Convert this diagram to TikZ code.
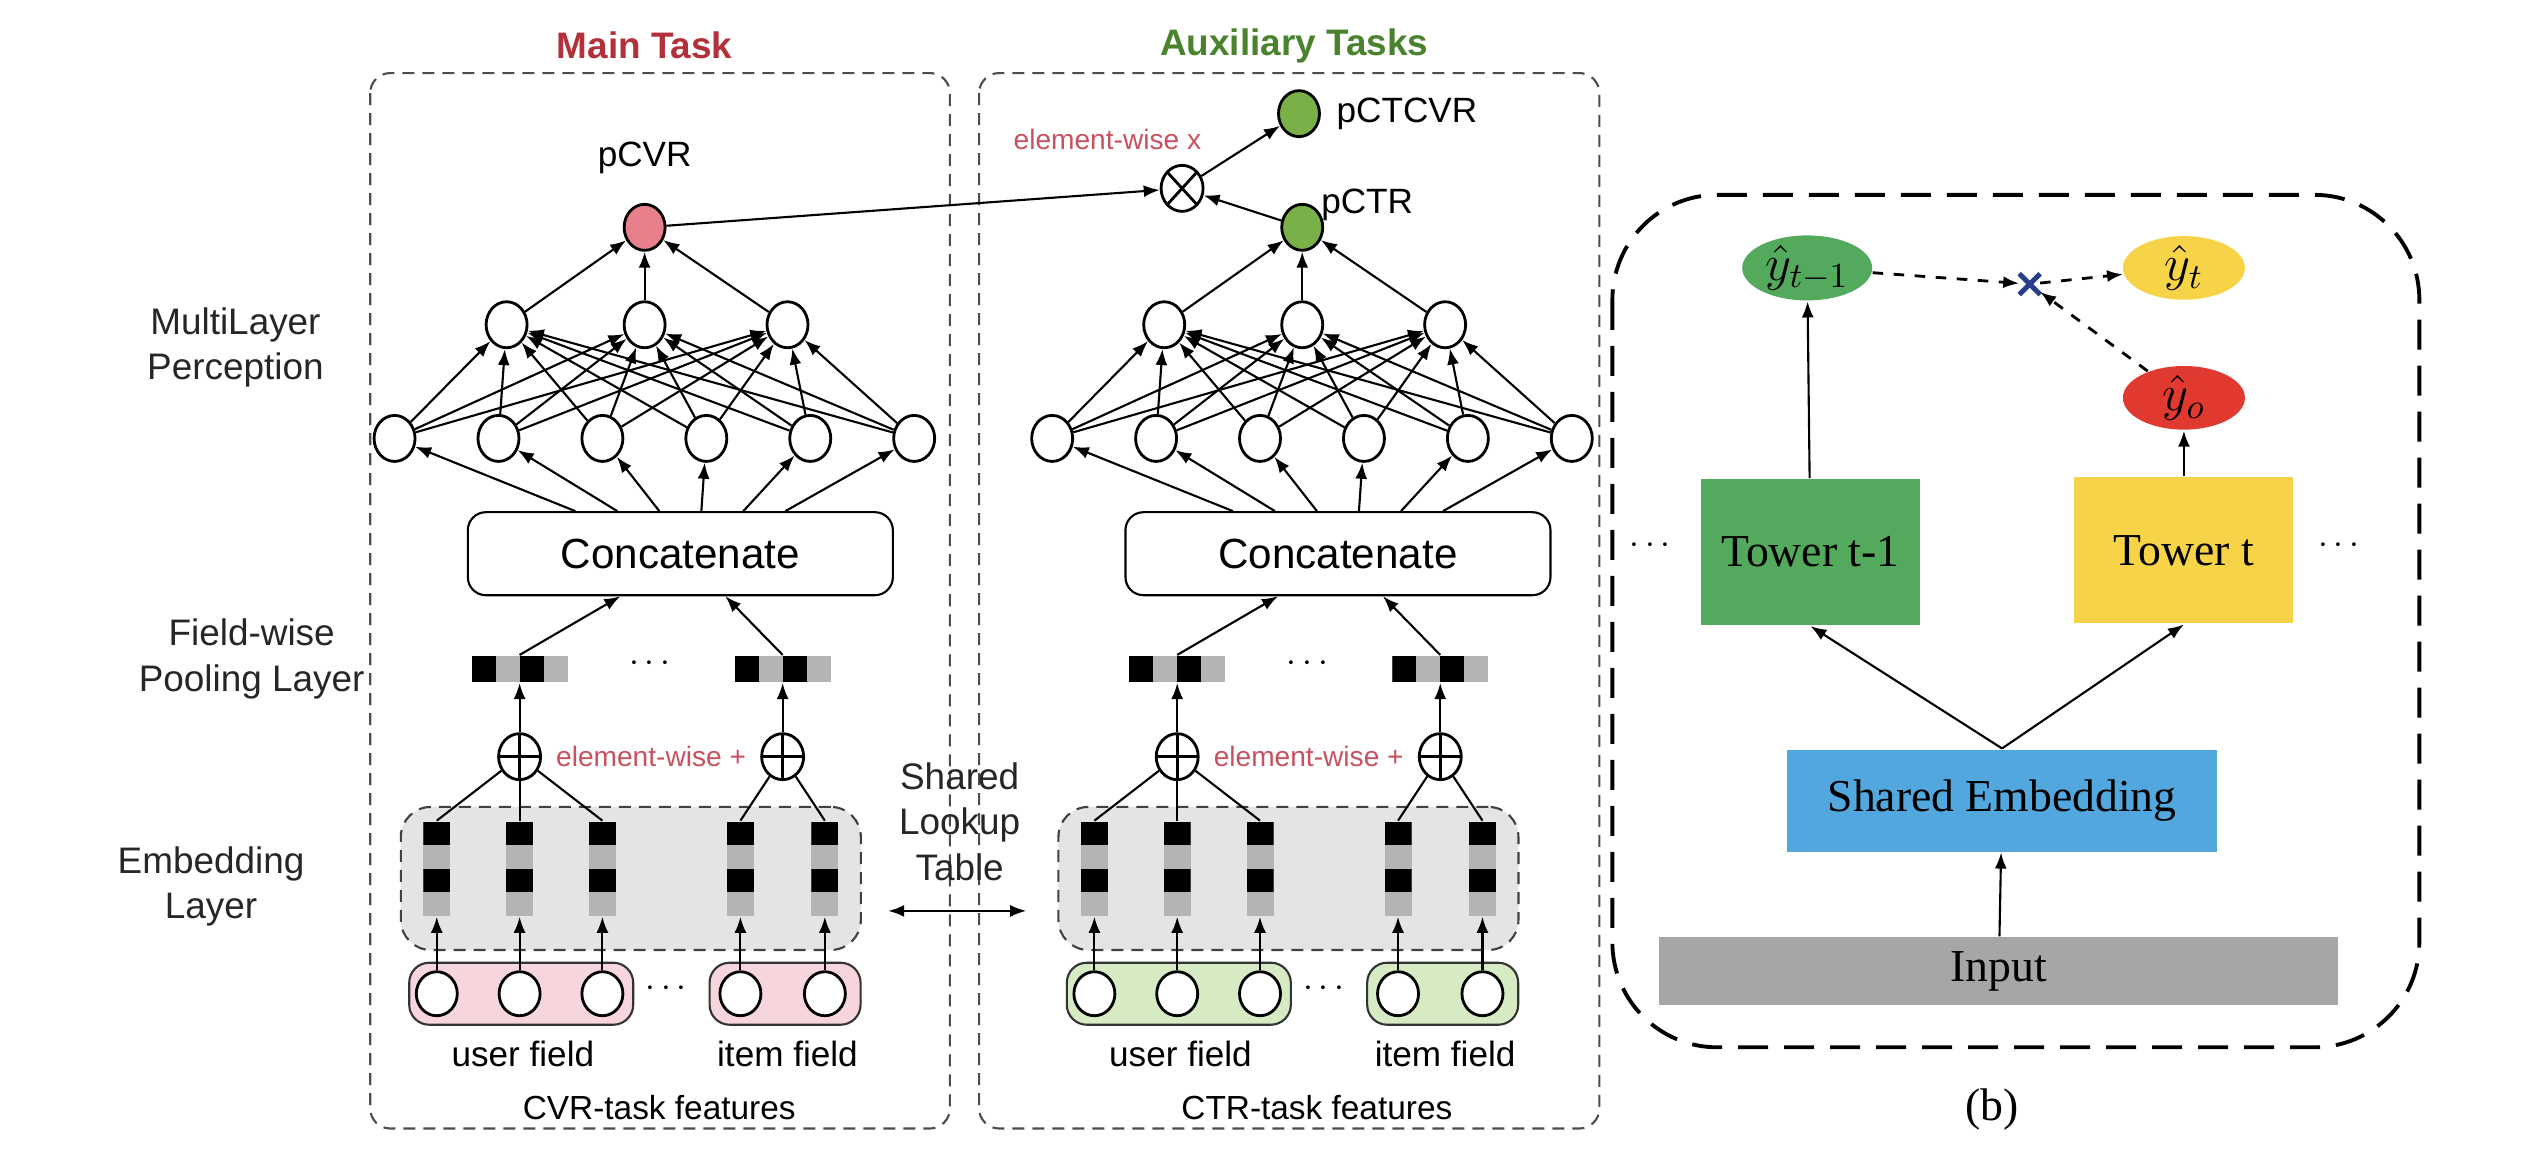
\documentclass[tikz,border=0pt]{standalone}
\usepackage{fontspec}
\setmainfont{Liberation Sans}
\newfontfamily\timesfont{Liberation Serif}
\usepackage{tikz}
\usetikzlibrary{arrows, positioning, shapes.geometric, shapes.misc, arrows.meta}
\usepackage{amsmath}

\definecolor{maintitle}{RGB}{178,48,58}
\definecolor{auxtitle}{RGB}{74,130,46}
\definecolor{ewred}{RGB}{200,80,95}
\definecolor{pinknode}{RGB}{232,128,140}
\definecolor{pinkfield}{RGB}{246,214,220}
\definecolor{greennode}{RGB}{122,176,72}
\definecolor{greenfield}{RGB}{214,234,196}
\definecolor{embgray}{RGB}{228,228,228}
\definecolor{cellgray}{RGB}{180,180,180}
\definecolor{towergreen}{RGB}{84,170,92}
\definecolor{toweryellow}{RGB}{247,211,72}
\definecolor{yred}{RGB}{224,58,48}
\definecolor{embblue}{RGB}{82,168,222}
\definecolor{inputgray}{RGB}{166,166,166}
\definecolor{crossblue}{RGB}{40,60,140}

\begin{document}
\begin{tikzpicture}[x=0.16237mm, y=-0.16237mm, >={Latex[length=1.6mm, width=1.2mm]},
    font=\fontsize{10}{12}\selectfont, semithick,
    neuron/.style={ellipse, draw, thick, fill=white, minimum width=4.1mm, minimum height=4.6mm, inner sep=0},
    oplusnode/.style={ellipse, draw, thick, fill=white, minimum width=4.2mm, minimum height=4.6mm, inner sep=0,
        path picture={\draw[thick] (path picture bounding box.north) -- (path picture bounding box.south)
            (path picture bounding box.west) -- (path picture bounding box.east);}},
    otimesnode/.style={ellipse, draw, thick, fill=white, minimum width=4.2mm, minimum height=4.6mm, inner sep=0,
        path picture={\draw[thick] (path picture bounding box.north west) -- (path picture bounding box.south east)
            (path picture bounding box.south west) -- (path picture bounding box.north east);}},
    concat/.style={rectangle, draw, rounded corners=1.8mm, minimum width=42.5mm, minimum height=8.3mm,
        font=\fontsize{12}{14}\selectfont},
    embvec/.style={rectangle, inner sep=0, minimum width=2.7mm, minimum height=9.4mm, fill=cellgray,
        path picture={\fill[black] (path picture bounding box.north west) rectangle ([yshift=2.35mm]path picture bounding box.east);
            \fill[black] (path picture bounding box.west) rectangle ([yshift=-2.35mm]path picture bounding box.east);}},
    poolvec/.style={rectangle, inner sep=0, minimum width=9.6mm, minimum height=2.6mm, fill=cellgray,
        path picture={\fill[black] (path picture bounding box.north west) rectangle ([xshift=-2.4mm]path picture bounding box.south);
            \fill[black] (path picture bounding box.north) rectangle ([xshift=2.4mm]path picture bounding box.south);}},
    embbox/.style={rectangle, draw=black!75, dash pattern=on 1.2mm off 0.8mm, fill=embgray, rounded corners=3mm,
        minimum width=46mm, minimum height=14.3mm},
    fieldbox/.style={rectangle, draw=black!80, rounded corners=2mm, minimum height=6.2mm},
    taskbox/.style={draw=black!70, dash pattern=on 1.2mm off 0.8mm, rounded corners=2mm, semithick},
    layerlbl/.style={align=center, font=\fontsize{10.5}{13}\selectfont, text=black!85},
    ewlbl/.style={text=ewred, font=\fontsize{8}{10}\selectfont},
    tower/.style={rectangle, minimum width=21.9mm, minimum height=14.6mm, font=\timesfont\fontsize{13}{15}\selectfont},
    yhat/.style={ellipse, inner sep=0, minimum width=12.2mm, minimum height=6.2mm, font=\fontsize{14}{16}\selectfont},
    bdash/.style={draw, line width=1.1pt, dash pattern=on 3mm off 1.6mm, rounded corners=10.5mm}]

    \useasboundingbox (0,0) rectangle (1568,722);

    % task frames
    \draw[taskbox] (228,45) rectangle (585,695);
    \draw[taskbox] (603,45) rectangle (985,695);
    \node[font=\bfseries\fontsize{10.5}{12}\selectfont, text=maintitle] (ttl-main) at (397,28) {Main Task};
    \node[font=\bfseries\fontsize{10.5}{12}\selectfont, text=auxtitle] (ttl-aux) at (797,28) {Auxiliary Tasks};

    % layer names
    \node[layerlbl] (lbl-mlp) at (145,214) {MultiLayer\\Perception};
    \node[layerlbl] (lbl-pool) at (155,406) {Field-wise\\Pooling Layer};
    \node[layerlbl] (lbl-emb) at (130,546) {Embedding\\Layer};
    \node[layerlbl] (lbl-lookup) at (591,506) {Shared\\Lookup\\Table};
    \coordinate (look-l) at (547,561);
    \coordinate (look-r) at (632,561);
    \draw[<->] (look-l) -- (look-r);

    % the two towers
    \foreach \tw/\dx/\fld/\feat in {m/0/pinkfield/CVR, a/405/greenfield/CTR} {
        \node[embbox] (\tw-emb) at ({\dx+388.5},541) {};
        \node[fieldbox, fill=\fld, minimum width=22.4mm] (\tw-ubox) at ({\dx+321},612) {};
        \node[fieldbox, fill=\fld, minimum width=15.1mm] (\tw-ibox) at ({\dx+483.5},612) {};
        \node (\tw-fdots) at ({\dx+412},609) {$\cdots$};
        \node (\tw-ulbl) at ({\dx+322},649) {user field};
        \node (\tw-ilbl) at ({\dx+485},649) {item field};
        \node[font=\fontsize{9.5}{11}\selectfont] (\tw-feat) at ({\dx+406},682) {\feat-task features};

        \foreach \k/\x in {1/269, 2/320, 3/371, 4/456, 5/508} {
            \node[neuron, minimum height=4.4mm] (\tw-f\k) at ({\dx+\x},612) {};
            \node[embvec] (\tw-e\k) at ({\dx+\x},535) {};
            \draw[->] (\tw-f\k) -- (\tw-e\k);
        }

        \node[oplusnode] (\tw-plus1) at ({\dx+320},466) {};
        \node[oplusnode] (\tw-plus2) at ({\dx+482},466) {};
        \node[ewlbl] (\tw-ewplus) at ({\dx+401},466) {element-wise +};
        \foreach \k in {1,2,3} \draw (\tw-plus1) -- (\tw-e\k.north);
        \foreach \k in {4,5} \draw (\tw-plus2) -- (\tw-e\k.north);

        \node[poolvec] (\tw-pool1) at ({\dx+320},412) {};
        \node[poolvec] (\tw-pool2) at ({\dx+482},412) {};
        \node (\tw-pdots) at ({\dx+402},409) {$\cdots$};
        \draw[->] (\tw-plus1) -- (\tw-pool1);
        \draw[->] (\tw-plus2) -- (\tw-pool2);

        \node[concat] (\tw-concat) at ({\dx+419},341) {Concatenate};
        \draw[->] (\tw-pool1.north) -- ([xshift=-6mm]\tw-concat.south);
        \draw[->] (\tw-pool2.north) -- ([xshift=4.5mm]\tw-concat.south);

        % hidden layers
        \foreach \i in {1,...,6}
            \node[neuron] (\tw-a\i) at ({\dx+243+64*(\i-1)},270) {};
        \foreach \j/\x in {1/312, 2/397, 3/485}
            \node[neuron] (\tw-b\j) at ({\dx+\x},200) {};
        \foreach \i/\s in {1/-10.5, 2/-6.3, 3/-2.1, 4/2.1, 5/6.3, 6/10.5}
            \draw[->] ([xshift=\s mm]\tw-concat.north) -- (\tw-a\i);
        \foreach \i in {1,...,6}
            \foreach \j in {1,2,3}
                \draw[->] (\tw-a\i) -- (\tw-b\j);
    }

    % outputs
    \node[neuron, fill=pinknode] (pcvr) at (397,140) {};
    \node[above=1.6mm of pcvr] (pcvr-lbl) {pCVR};
    \foreach \j in {1,2,3} \draw[->] (m-b\j) -- (pcvr);

    \node[neuron, fill=greennode] (pctr) at (802,140) {};
    \node (pctr-lbl) at (842,126) {pCTR};
    \foreach \j in {1,2,3} \draw[->] (a-b\j) -- (pctr);

    \node[otimesnode] (mult) at (728,116) {};
    \node[ewlbl] (mult-lbl) at (682,86) {element-wise x};
    \node[neuron, fill=greennode] (pctcvr) at (800,70) {};
    \node[right=0.3mm of pctcvr] (pctcvr-lbl) {pCTCVR};
    \draw[->] (pcvr) -- (mult);
    \draw[->] (pctr) -- (mult);
    \draw[->] (mult) -- (pctcvr);

    % panel (b)
    \draw[bdash] (993,120) rectangle (1490,645);
    \node[rectangle, fill=inputgray, minimum width=67.9mm, minimum height=6.7mm, font=\timesfont\fontsize{13}{15}\selectfont] (inp) at (1231,598) {Input};
    \node[rectangle, fill=embblue, minimum width=43mm, minimum height=10.2mm, font=\timesfont\fontsize{13}{15}\selectfont] (shemb) at (1233,493) {Shared Embedding};
    \node[tower, fill=towergreen] (tw1) at (1115,340) {Tower t-1};
    \node[tower, fill=toweryellow] (tw2) at (1345,339) {Tower t};
    \node (ldots) at (1018,336) {$\cdots$};
    \node (rdots) at (1442,336) {$\cdots$};
    \node[yhat, fill=towergreen, minimum width=13mm, minimum height=6.5mm] (yprev) at (1113,165) {$\hat{y}_{t-1}$};
    \node[yhat, fill=toweryellow] (ycur) at (1345,165) {$\hat{y}_t$};
    \node[yhat, fill=yred, minimum height=5.8mm] (yo) at (1345,245) {$\hat{y}_o$};
    \node[cross out, draw=crossblue, line width=1.4pt, minimum size=1.6mm, inner sep=0] (mulb) at (1250,175) {};
    \node[font=\timesfont\fontsize{13}{15}\selectfont] (cap-b) at (1227,683) {(b)};

    \draw[->] (inp) -- (shemb);
    \draw[->] (shemb.north) -- (tw1.south);
    \draw[->] (shemb.north) -- (tw2.south);
    \draw[->] (tw1) -- (yprev);
    \draw[->] (tw2) -- (yo);
    \draw[->, dashed, thick] (yprev) -- (mulb);
    \draw[->, dashed, thick] (yo) -- (mulb);
    \draw[->, dashed, thick] (mulb) -- (ycur);
\end{tikzpicture}
\end{document}
